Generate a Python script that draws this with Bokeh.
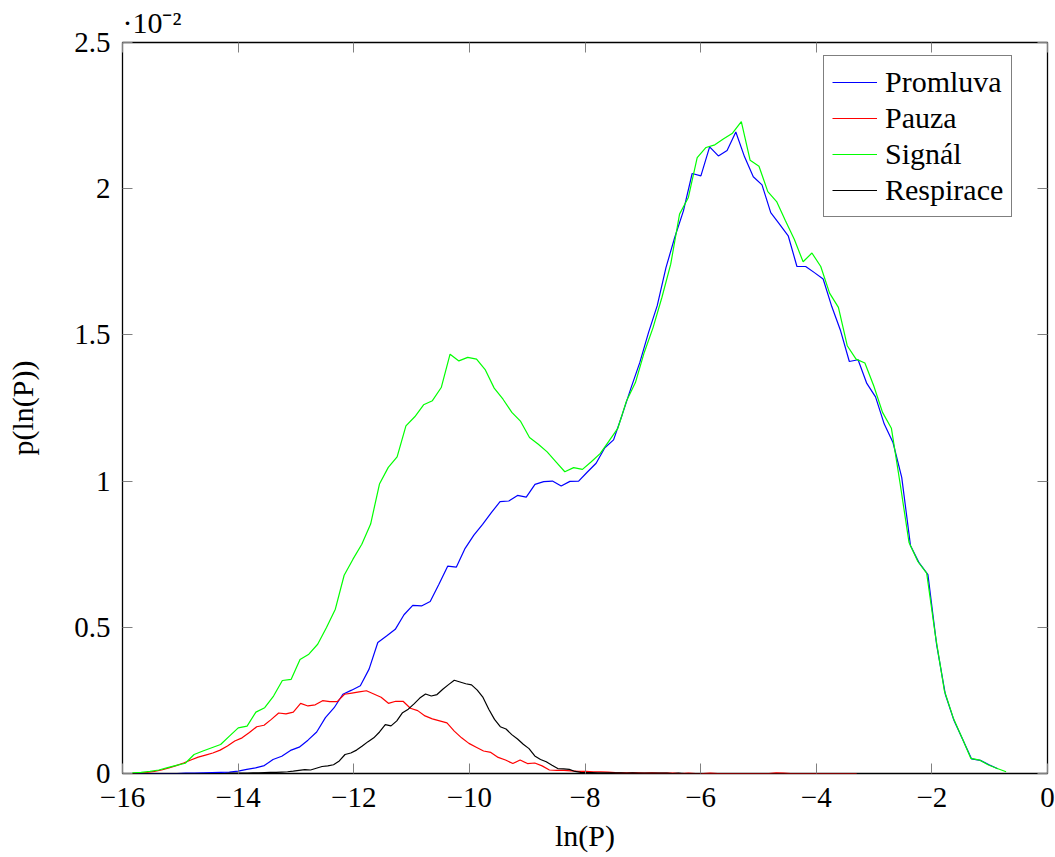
import numpy as np
from bokeh.plotting import figure
from bokeh.models import (FixedTicker, CustomJSTickFormatter, LinearAxis, Legend,
                          LegendItem, Title)
from bokeh.embed import file_html
from bokeh.resources import INLINE

# ---- data (values in units of 1e-2) ----
series_names = ["Promluva", "Pauza", "Signál", "Respirace"]

# histogram bin ranges (ln P) of each series, 100 bins each
promluva_range = (-15.813, -0.86)
pauza_range = (-15.83, -3.30)
signal_range = (-15.83, -0.716)
respirace_range = (-15.83, -5.985)

promluva = [0, 0, 0, 0, 0, 0, 0.001, 0.001, 0.002, 0.003,
            0.004, 0.005, 0.008, 0.014, 0.019, 0.027, 0.048, 0.059, 0.079, 0.09,
            0.114, 0.142, 0.191, 0.225, 0.271, 0.285, 0.3, 0.357, 0.448, 0.47,
            0.493, 0.543, 0.575, 0.573, 0.588, 0.647, 0.709, 0.706, 0.77, 0.815,
            0.852, 0.892, 0.93, 0.932, 0.951, 0.945, 0.989, 0.998, 1.0, 0.983,
            0.999, 1.0, 1.031, 1.061, 1.114, 1.141, 1.228, 1.319, 1.405, 1.508,
            1.6, 1.73, 1.833, 1.924, 2.052, 2.044, 2.143, 2.112, 2.131, 2.194,
            2.109, 2.041, 2.013, 1.918, 1.879, 1.839, 1.734, 1.734, 1.713, 1.691,
            1.596, 1.514, 1.409, 1.415, 1.334, 1.288, 1.195, 1.132, 1.013, 0.78,
            0.72, 0.68, 0.44, 0.27, 0.18, 0.115, 0.05, 0.045, 0.03, 0.016]

pauza = [0.0, 0.002, 0.004, 0.007, 0.012, 0.019, 0.027, 0.036, 0.046, 0.056,
         0.063, 0.07, 0.08, 0.094, 0.111, 0.122, 0.14, 0.16, 0.165, 0.185,
         0.207, 0.204, 0.21, 0.24, 0.231, 0.235, 0.249, 0.246, 0.246, 0.271,
         0.275, 0.279, 0.283, 0.272, 0.261, 0.24, 0.247, 0.247, 0.223, 0.215,
         0.197, 0.187, 0.18, 0.173, 0.145, 0.122, 0.103, 0.09, 0.077, 0.072,
         0.055, 0.046, 0.034, 0.046, 0.034, 0.036, 0.026, 0.012, 0.011, 0.011,
         0.009, 0.007, 0.007, 0.006, 0.006, 0.005, 0.003, 0.002, 0.002, 0.002,
         0.001, 0.002, 0.001, 0.001, 0.001, 0, 0.001, 0, 0, 0.001,
         0, 0, 0, 0, 0, 0, 0, 0, 0.002, 0.001,
         0, 0, 0, 0, 0, 0, 0, 0, 0, 0]

signal = [0.002, 0.004, 0.007, 0.012, 0.02, 0.028, 0.035, 0.065, 0.077, 0.088,
          0.099, 0.128, 0.156, 0.162, 0.21, 0.225, 0.265, 0.318, 0.322, 0.39,
          0.408, 0.442, 0.499, 0.562, 0.678, 0.733, 0.784, 0.853, 0.99, 1.047,
          1.083, 1.189, 1.22, 1.261, 1.275, 1.32, 1.434, 1.411, 1.423, 1.417,
          1.38, 1.318, 1.28, 1.235, 1.204, 1.149, 1.126, 1.10, 1.066, 1.032,
          1.046, 1.04, 1.066, 1.094, 1.137, 1.18, 1.275, 1.337, 1.44, 1.525,
          1.628, 1.742, 1.913, 1.97, 2.106, 2.141, 2.15, 2.171, 2.19, 2.229,
          2.097, 2.077, 1.99, 1.956, 1.89, 1.827, 1.75, 1.78, 1.734, 1.643,
          1.594, 1.463, 1.417, 1.404, 1.326, 1.235, 1.181, 0.99, 0.79, 0.725,
          0.685, 0.47, 0.284, 0.191, 0.122, 0.052, 0.046, 0.029, 0.017, 0.006]

respirace = [0, 0, 0, 0, 0, 0, 0, 0, 0, 0,
             0, 0, 0, 0, 0, 0, 0, 0.001, 0.001, 0.001,
             0.001, 0.002, 0.002, 0.003, 0.004, 0.004, 0.005, 0.006, 0.008, 0.011,
             0.013, 0.012, 0.018, 0.024, 0.026, 0.03, 0.043, 0.065, 0.07, 0.08,
             0.094, 0.109, 0.122, 0.142, 0.167, 0.163, 0.18, 0.208, 0.22, 0.238,
             0.258, 0.272, 0.265, 0.27, 0.288, 0.304, 0.319, 0.313, 0.307, 0.303,
             0.285, 0.26, 0.22, 0.185, 0.16, 0.152, 0.133, 0.118, 0.1, 0.085,
             0.06, 0.048, 0.04, 0.028, 0.017, 0.016, 0.014, 0.007, 0.004, 0.003,
             0.003, 0.002, 0.002, 0.002, 0.002, 0.002, 0.001, 0.002, 0.001, 0.001,
             0.001, 0.001, 0.001, 0.001, 0, 0.001, 0, 0, 0, 0]

x_ticks = [-16, -14, -12, -10, -8, -6, -4, -2, 0]
y_ticks = [0, 0.5, 1, 1.5, 2, 2.5]
scale_note = "·10⁻²"

FONT = "Liberation Serif"
FS = "29px"

p = figure(width=1055, height=857, x_range=(-16, 0), y_range=(0, 2.5),
           output_backend="svg", toolbar_location=None,
           min_border_left=122, min_border_right=8, min_border_top=42,
           min_border_bottom=84)
p.background_fill_color = "white"
p.border_fill_color = "white"
p.grid.visible = False
p.outline_line_color = "black"
p.outline_line_width = 1.3
p.outline_line_alpha = 1.0

fmt = CustomJSTickFormatter(code="""
const v = Math.round(tick*1000)/1000;
return v < 0 ? '\u2212' + String(-v) : String(v);
""")
blank = CustomJSTickFormatter(code="return '';")

def style_axis(ax, ticks, formatter, show_labels=True):
    ax.ticker = FixedTicker(ticks=ticks)
    ax.formatter = formatter
    ax.axis_line_color = None
    ax.major_tick_in = 10
    ax.major_tick_out = 0
    ax.major_tick_line_color = "#808080"
    ax.major_tick_line_width = 1
    ax.minor_tick_line_color = None
    ax.major_label_text_font = FONT
    ax.major_label_text_font_size = FS if show_labels else "0px"
    ax.major_label_text_color = "black"

xa = p.xaxis[0]
ya = p.yaxis[0]
style_axis(xa, x_ticks, fmt)
style_axis(ya, y_ticks, fmt)
xa.major_label_standoff = 14
ya.major_label_standoff = 12
xa.axis_label = "ln(P)"
ya.axis_label = "p(ln(P))"
for ax in (xa, ya):
    ax.axis_label_text_font = FONT
    ax.axis_label_text_font_size = "30px"
    ax.axis_label_text_font_style = "normal"
    ax.axis_label_text_color = "black"
xa.axis_label_standoff = 9
ya.axis_label_standoff = 32

top_ax = LinearAxis()
style_axis(top_ax, x_ticks, blank, show_labels=False)
top_ax.major_label_standoff = 0
p.add_layout(top_ax, "above")
right_ax = LinearAxis()
style_axis(right_ax, y_ticks, blank, show_labels=False)
right_ax.major_label_standoff = 0
p.add_layout(right_ax, "right")

colors = ["#0000ff", "#ff0000", "#00ff00", "#000000"]
ranges = [promluva_range, pauza_range, signal_range, respirace_range]
values = [promluva, pauza, signal, respirace]
items = []
for name, col, rng, vals in zip(series_names, colors, ranges, values):
    xs = np.linspace(rng[0], rng[1], len(vals))
    r = p.line(xs, vals, line_color=col, line_width=1.2)
    items.append(LegendItem(label=name, renderers=[r]))

legend = Legend(items=items, location=(701, 556))
legend.label_text_font = FONT
legend.label_text_font_size = "30px"
legend.label_text_color = "black"
legend.glyph_width = 45
legend.glyph_height = 36
legend.label_height = 36
legend.label_standoff = 8
legend.spacing = 0
legend.padding = 8
legend.margin = 0
legend.border_line_color = "black"
legend.border_line_width = 1
legend.background_fill_alpha = 1.0
p.add_layout(legend)

# scale factor note above the top-left corner of the frame
p.title = Title(text=scale_note, align="left", offset=0, standoff=7,
                text_font=FONT, text_font_size="30px", text_font_style="normal",
                text_color="black")

with open("out.html", "w", encoding="utf-8") as f:
    f.write(file_html(p, INLINE))
